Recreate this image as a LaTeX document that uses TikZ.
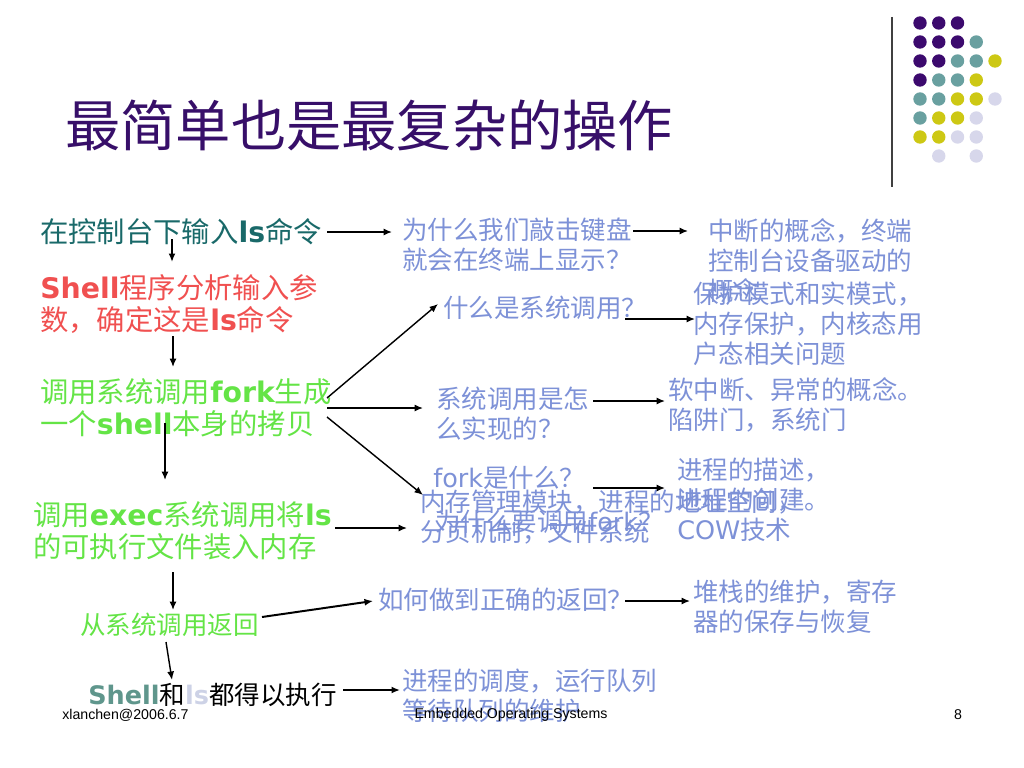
\documentclass[tikz,border=0pt]{standalone}
\usepackage{fontspec}
\setmainfont{Noto Sans CJK SC}
\newfontfamily\vd{DejaVu Sans}
\newfontfamily\ar{Liberation Sans}
\usetikzlibrary{arrows.meta}
\newcommand{\kw}[1]{{\vd\bfseries #1}}
\newcommand{\kr}[1]{{\vd #1}}
\definecolor{ttl}{RGB}{55,15,105}
\definecolor{tdk}{RGB}{25,105,105}
\definecolor{redc}{RGB}{240,80,80}
\definecolor{grn}{RGB}{100,228,70}
\definecolor{shc}{RGB}{95,150,140}
\definecolor{lsc}{RGB}{205,210,230}
\definecolor{qc}{RGB}{125,145,215}
\definecolor{dP}{RGB}{60,10,110}
\definecolor{dT}{RGB}{105,160,160}
\definecolor{dY}{RGB}{205,200,20}
\definecolor{dL}{RGB}{215,215,235}
\begin{document}
\begin{tikzpicture}[x=0.70576pt,y=-0.70576pt,
  lft/.style={anchor=west,inner sep=0pt,align=left,font=\fontsize{20}{22.6}\selectfont},
  small/.style={font=\fontsize{18}{21.2}\selectfont},
  rgt/.style={anchor=west,inner sep=0pt,align=left,text=qc,font=\fontsize{18}{21.2}\selectfont},
  arr/.style={-{Latex[length=6pt,width=5pt]},line width=1pt},
  foot/.style={inner sep=0pt,font=\ar\fontsize{10}{12}\selectfont}]
\useasboundingbox (0,0) rectangle (1024,768);

\foreach \i/\j/\c in {0/0/dP,1/0/dP,2/0/dP,
  0/1/dP,1/1/dP,2/1/dP,3/1/dT,
  0/2/dP,1/2/dP,2/2/dT,3/2/dT,4/2/dY,
  0/3/dP,1/3/dT,2/3/dT,3/3/dY,
  0/4/dT,1/4/dT,2/4/dY,3/4/dY,4/4/dL,
  0/5/dT,1/5/dY,2/5/dY,3/5/dL,
  0/6/dY,1/6/dY,2/6/dL,3/6/dL,
  1/7/dL,3/7/dL}
  \fill[\c] (920+18.75*\i,23+19*\j) circle[radius=6.7];
\draw[line width=1.1pt,black!75] (892,17) -- (892,187);

\node[anchor=west,inner sep=0pt,text=ttl,font=\fontsize{39}{45}\selectfont] (title) at (65,125) {最简单也是最复杂的操作};

\node[lft,text=tdk] (a1) at (40,232) {在控制台下输入\kw{ls}命令};
\node[lft,text=redc] (a2) at (40,304) {\kw{Shell}程序分析输入参\\数，确定这是\kw{ls}命令};
\node[lft,text=grn] (a3) at (40,408) {调用系统调用\kw{fork}生成\\一个\kw{shell}本身的拷贝};
\node[lft,text=grn] (a4) at (33,531) {调用\kw{exec}系统调用将\kw{ls}\\的可执行文件装入内存};
\node[lft,small,text=grn] (a5) at (80,625) {从系统调用返回};
\node[lft,small] (a6) at (88,695) {\textcolor{shc}{\kw{Shell}}和\textcolor{lsc}{\kw{ls}}都得以执行};

\node[rgt] (b1) at (402,245) {为什么我们敲击键盘\\就会在终端上显示？};
\node[rgt] (c1) at (708,261) {中断的概念，终端\\控制台设备驱动的\\概念};
\node[rgt] (b2) at (443,308) {什么是系统调用？};
\node[rgt] (c2) at (693,324) {保护模式和实模式，\\内存保护，内核态用\\户态相关问题};
\node[rgt] (b3) at (436,414) {系统调用是怎\\么实现的？};
\node[rgt] (c3) at (668,405) {软中断、异常的概念。\\陷阱门，系统门};
\node[rgt] (b4) at (433,478) {\kr{fork}是什么？};
\node[rgt] (c4) at (677,500) {进程的描述，\\进程的创建。\\\kr{COW}技术};
\node[rgt] (b5) at (420,517) {内存管理模块，进程的地址空间，\\分页机制，文件系统};
\node[rgt] (b6) at (435,522) {为什么要调用\kr{fork}？};
\node[rgt] (b7) at (378,600) {如何做到正确的返回？};
\node[rgt] (c7) at (693,607) {堆栈的维护，寄存\\器的保存与恢复};
\node[rgt] (b8) at (402,696) {进程的调度，运行队列\\等待队列的维护};

\draw[arr,line width=1.6pt] ([shift={(132,7)}]a1.west) -- ([shift={(132,-42)}]a2.west);
\draw[arr] ([shift={(133,32)}]a2.west) -- ([shift={(133,-41)}]a3.west);
\draw[arr] ([shift={(125,15)}]a3.west) -- ([shift={(132,-51)}]a4.west);
\draw[arr] ([shift={(140,41)}]a4.west) -- ([shift={(93,-15)}]a5.west);
\draw[arr] ([shift={(86,17)}]a5.west) -- ([shift={(84,-15)}]a6.west);

\draw[arr] ([shift={(287,0)}]a1.west) -- ([shift={(-10,-13)}]b1.west);
\draw[arr] ([shift={(231,-14)}]b1.west) -- ([shift={(-20,-30)}]c1.west);
\draw[arr] ([shift={(287,-10)}]a3.west) -- ([shift={(-5,-4)}]b2.west);
\draw[arr] ([shift={(182,11)}]b2.west) -- ([shift={(2,-5)}]c2.west);
\draw[arr] ([shift={(287,0)}]a3.west) -- ([shift={(-13,-6)}]b3.west);
\draw[arr] ([shift={(157,-13)}]b3.west) -- ([shift={(-3,-4)}]c3.west);
\draw[arr] ([shift={(287,9)}]a3.west) -- ([shift={(-10,17)}]b4.west);
\draw[arr] ([shift={(160,10)}]b4.west) -- ([shift={(-12,-12)}]c4.west);
\draw[arr] ([shift={(302,-3)}]a4.west) -- ([shift={(-28,6)}]b6.west);
\draw[arr,line width=1.4pt] ([shift={(182,-8)}]a5.west) -- ([shift={(-5,1)}]b7.west);
\draw[arr] ([shift={(247,1)}]b7.west) -- ([shift={(-3,-6)}]c7.west);
\draw[arr,line width=1.6pt] ([shift={(255,-5)}]a6.west) -- ([shift={(-2,-6)}]b8.west);

\node[foot,anchor=west] (date) at (62,715) {xlanchen@2006.6.7};
\node[foot] (course) at (511,715) {Embedded Operating Systems};
\node[foot] (page) at (958,715) {8};
\end{tikzpicture}
\end{document}
